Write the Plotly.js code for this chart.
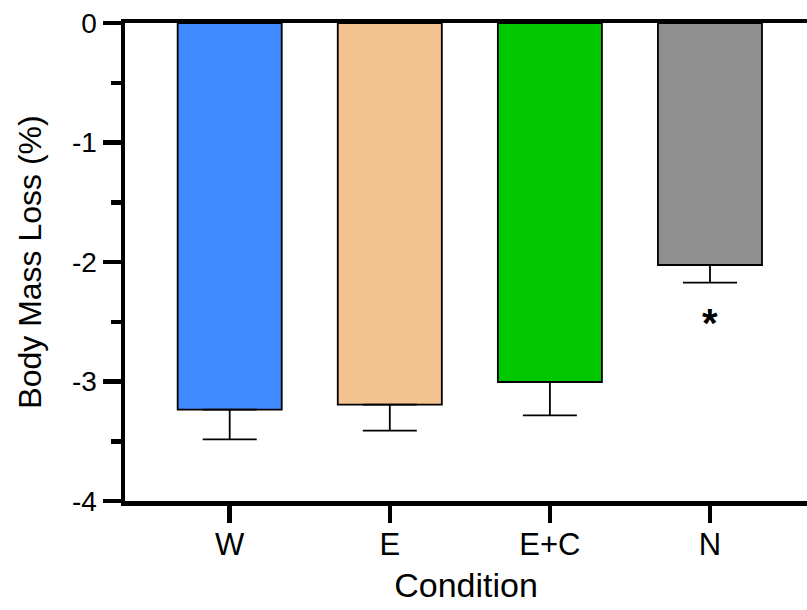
<!DOCTYPE html>
<html>
<head>
<meta charset="utf-8">
<script src="https://cdn.plot.ly/plotly-3.0.1.min.js"></script>
<style>html,body{margin:0;padding:0;background:#fff;}#chart{width:807px;height:610px;}</style>
</head>
<body>
<div id="chart"></div>
<script>
const categories = ["W", "E", "E+C", "N"];
const meanLoss = [-3.235, -3.193, -3.004, -2.025];
const semLoss = [0.25, 0.218, 0.28, 0.147];
const barColors = ["#4189FF", "#F5C38F", "#00C700", "#8F8F8F"];
const sigCategory = "N";
const sigMarkY = -2.48;
const yTickVals = [0, -1, -2, -3, -4];

const font = "Liberation Sans, Arial, Helvetica, sans-serif";

const trace = {
  type: "bar",
  x: categories,
  y: meanLoss,
  marker: { color: barColors, line: { color: "#000", width: 1.8 } },
  error_y: {
    type: "data", symmetric: false,
    array: meanLoss.map(() => 0),
    arrayminus: semLoss,
    color: "#000", thickness: 1.8, width: 27
  },
  hoverinfo: "skip"
};

const layout = {
  width: 807, height: 610,
  margin: { l: 125, r: 0, t: 23, b: 109, pad: 0 },
  paper_bgcolor: "#fff", plot_bgcolor: "#fff",
  showlegend: false,
  bargap: 0.35,
  font: { family: font, color: "#000" },
  xaxis: {
    type: "category",
    range: [-0.654, 3.606],
    showline: true, linecolor: "#000", linewidth: 4.5, mirror: true,
    ticks: "outside", ticklen: 17, tickwidth: 4.5, tickcolor: "#000",
    ticklabelstandoff: -5,
    tickfont: { size: 31, family: font },
    showgrid: false, zeroline: false,
    title: { text: "Condition", font: { size: 34, family: font }, standoff: 14 }
  },
  yaxis: {
    range: [-4, 0],
    tickvals: yTickVals,
    ticktext: yTickVals.map(String),
    showline: true, linecolor: "#000", linewidth: 4.5,
    ticks: "outside", ticklen: 18, tickwidth: 4.5, tickcolor: "#000",
    tickfont: { size: 28, family: font },
    minor: { dtick: 0.5, ticks: "outside", ticklen: 10, tickwidth: 4.5, tickcolor: "#000", showgrid: false },
    showgrid: false, zeroline: false,
    title: { text: "Body Mass Loss (%)", font: { size: 32, family: font }, standoff: 22 }
  },
  annotations: [{
    x: sigCategory, y: sigMarkY, xref: "x", yref: "y",
    text: "<b>*</b>", showarrow: false,
    font: { size: 40, family: font, color: "#000" },
    yshift: -4
  }]
};

Plotly.newPlot("chart", [trace], layout, { displayModeBar: false, staticPlot: true });
</script>
</body>
</html>
